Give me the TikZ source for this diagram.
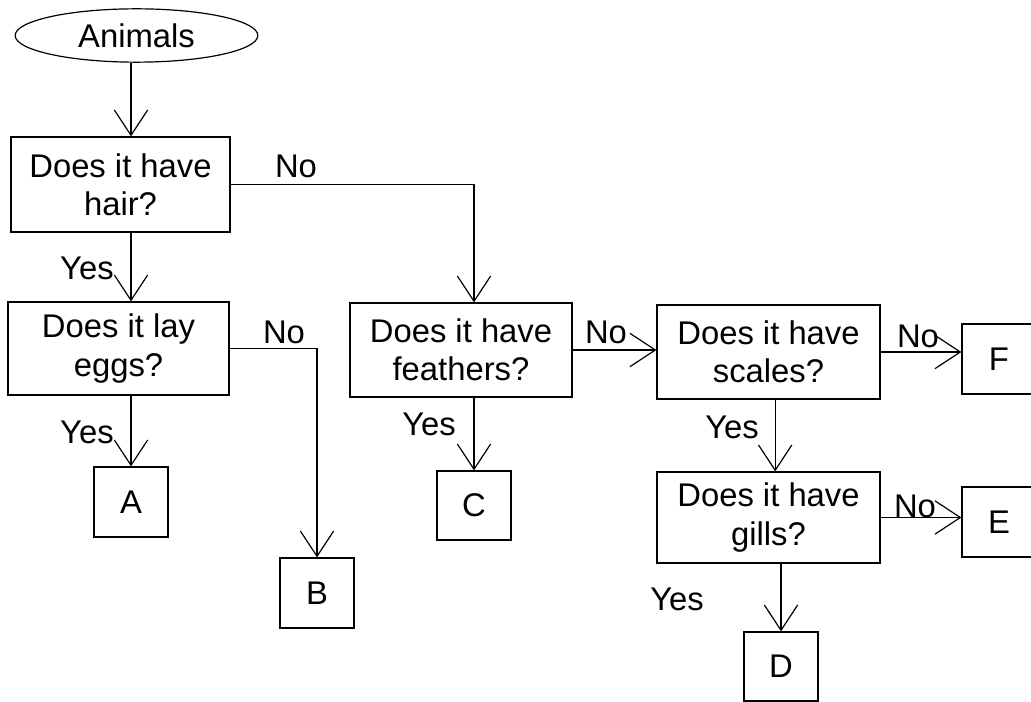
\documentclass[tikz,border=0pt]{standalone}
\usepackage{fontspec}
\setmainfont{Liberation Sans}
\usetikzlibrary{arrows.meta,shapes.geometric}
\begin{document}
\begin{tikzpicture}[x=0.75pt,y=-0.75pt,
  every node/.style={font=\fontsize{24.6}{28.8}\selectfont},
  qbox/.style={draw,line width=0.9pt,inner sep=0pt,align=center},
  leaf/.style={draw,line width=0.9pt,inner sep=0pt,minimum width=55.5pt,minimum height=52.5pt},
  conn/.style={line width=0.9pt},
  arr/.style={line width=0.9pt,-{Straight Barb[length=19pt,width=25pt,line width=0.9pt]}},
  lbl/.style={anchor=base,inner sep=0pt}]
\clip (0,0) rectangle (1031,702);
\useasboundingbox (0,0) rectangle (1031,702);
\node[ellipse,draw,line width=0.9pt,inner sep=0pt,minimum width=182pt,minimum height=40pt] (animals) at (136.5,35.5) {Animals};
\node[qbox,minimum width=164.25pt,minimum height=71.25pt] (hair) at (120.5,184.5) {Does it have\\hair?};
\node[qbox,minimum width=165.75pt,minimum height=69.75pt] (eggs) at (118.5,348.5) {Does it lay\\eggs?};
\node[qbox,minimum width=166.5pt,minimum height=70.5pt] (feathers) at (461,350) {Does it have\\feathers?};
\node[qbox,minimum width=167.25pt,minimum height=70.5pt] (scales) at (768.5,352) {Does it have\\scales?};
\node[qbox,minimum width=167.25pt,minimum height=68.25pt] (gills) at (768.5,517.5) {Does it have\\gills?};
\node[leaf] (A) at (131,502) {A};
\node[leaf] (B) at (317,593) {B};
\node[leaf,minimum height=51.75pt] (C) at (474,505.5) {C};
\node[leaf,minimum height=51.75pt] (D) at (781,666.5) {D};
\node[leaf] (F) at (999,359) {F};
\node[leaf] (E) at (999,522) {E};
% connectors
\draw[arr] (animals.south -| A.north) -- (hair.north -| A.north);
\draw[arr] (hair.south -| A.north) -- (eggs.north -| A.north);
\draw[arr] (eggs.south -| A.north) -- (A.north);
\draw[arr] (hair.east) -- (hair.east -| C.north) -- (feathers.north -| C.north);
\draw[arr] (eggs.east) -- (eggs.east -| B.north) -- (B.north);
\draw[arr] (feathers.east) -- (scales.west |- feathers.east);
\draw[arr] (feathers.south -| C.north) -- (C.north);
\draw[arr] (scales.east) -- (F.west |- scales.east);
\draw[arr] ([xshift=5pt]scales.south) -- ([xshift=5pt]gills.north);
\draw[arr] (gills.east) -- (E.west |- gills.east);
\draw[arr] (gills.south -| D.north) -- (D.north);
% labels
\node[lbl] (l1) at (296,178) {No};
\node[lbl] (l2) at (87,280) {Yes};
\node[lbl] (l3) at (284,343) {No};
\node[lbl] (l4) at (87,443) {Yes};
\node[lbl] (l5) at (429,435) {Yes};
\node[lbl] (l6) at (606,343) {No};
\node[lbl] (l7) at (918,347) {No};
\node[lbl] (l8) at (732,438) {Yes};
\node[lbl] (l9) at (915,517) {No};
\node[lbl] (l10) at (677,610) {Yes};
\end{tikzpicture}
\end{document}
